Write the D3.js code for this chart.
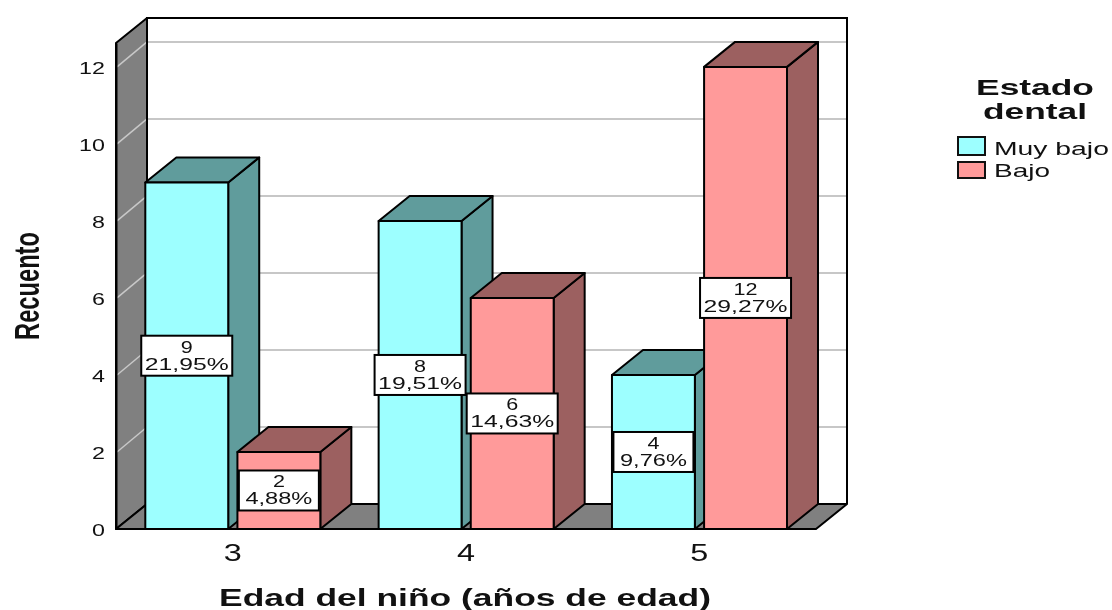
<!DOCTYPE html>
<html><head><meta charset="utf-8">
<script src="https://cdn.jsdelivr.net/npm/d3@7"></script>
<style>html,body{margin:0;padding:0;background:#fff}svg{display:block;filter:blur(0.5px)}text{font-family:"Liberation Sans",Arial,sans-serif;fill:#111}</style>
</head><body><svg id="c" width="1112" height="610"></svg>
<script>
const categories = ["3","4","5"];
const seriesNames = ["Muy bajo","Bajo"];
const muyBajo = [9,8,4];
const bajo = [2,6,12];
const muyBajoPct = ["21,95%","19,51%","9,76%"];
const bajoPct = ["4,88%","14,63%","29,27%"];
const yTicks = [0,2,4,6,8,10,12];
const xTitle = "Edad del niño (años de edad)";
const yTitle = "Recuento";
const legendTitle = ["Estado","dental"];

const svg = d3.select("#c");
const L=116,R=816,B=529,T=43,DX=31,DY=25;
const y=d3.scaleLinear().domain([0,12.62]).range([B,T]);
const x0=d3.scaleBand().domain(categories).range([L,R]);
const x1=d3.scaleBand().domain(seriesNames).range([29.3,x0.bandwidth()-29]).paddingInner(0.1);
const colors=d3.scaleOrdinal().domain(seriesNames).range(["#9dffff","#ff9a9a"]);
const sides=d3.scaleOrdinal().domain(seriesNames).range(["#609c9c","#9c6060"]);
const line=d3.line();
const poly=(p,fill,stroke,w)=>svg.append("path").attr("d",line(p)+"Z").attr("fill",fill).attr("stroke",stroke||"none").attr("stroke-width",w||0).attr("stroke-linejoin","round");

// walls
poly([[L,B],[L+DX,B-DY],[L+DX,T-DY],[L,T]],"#808080","#000",2);
poly([[L,B],[L+DX,B-DY],[R+DX,B-DY],[R,B]],"#808080","#000",2);
// grid
yTicks.filter(v=>v>0).forEach(v=>{
  svg.append("line").attr("x1",L+DX+1).attr("x2",R+DX-1).attr("y1",y(v)-DY).attr("y2",y(v)-DY).attr("stroke","#b4b4b4").attr("stroke-width",1.5);
  svg.append("line").attr("x1",L+1).attr("x2",L+DX).attr("y1",y(v)).attr("y2",y(v)-DY).attr("stroke","#c8c8c8").attr("stroke-width",1.5);
});
// back wall frame
svg.append("path").attr("d",line([[L+DX,B-DY],[L+DX,T-DY],[R+DX,T-DY],[R+DX,B-DY]])).attr("fill","none").attr("stroke","#000").attr("stroke-width",2);

const rows=[];
categories.forEach((c,i)=>{
  rows.push({c,s:seriesNames[0],v:muyBajo[i],p:muyBajoPct[i]});
  rows.push({c,s:seriesNames[1],v:bajo[i],p:bajoPct[i]});
});
rows.forEach(d=>{
  const a=x0(d.c)+x1(d.s), b=a+x1.bandwidth(), t=y(d.v);
  poly([[b,B],[b+DX,B-DY],[b+DX,t-DY],[b,t]],sides(d.s),"#000",2);
  poly([[a,t],[a+DX,t-DY],[b+DX,t-DY],[b,t]],sides(d.s),"#000",2);
  poly([[a,B],[a,t],[b,t],[b,B]],colors(d.s),"#000",2);
});
svg.append("line").attr("x1",L).attr("x2",R).attr("y1",B).attr("y2",B).attr("stroke","#000").attr("stroke-width",2);

function fit(sel,w){
  const len=sel.node().getComputedTextLength();
  sel.attr("transform",(sel.attr("data-t")||"")+` scale(${w/len},1)`);
}
// value labels
rows.forEach(d=>{
  const cx=x0(d.c)+x1(d.s)+x1.bandwidth()/2, cy=y(d.v/2);
  const w=d.p.length>5?91:80;
  svg.append("rect").attr("x",cx-w/2).attr("y",cy-20).attr("width",w).attr("height",40).attr("fill","#fff").attr("stroke","#000").attr("stroke-width",2);
  const a=svg.append("text").attr("text-anchor","middle").attr("font-size",16).attr("fill","#222").attr("data-t",`translate(${cx},${cy-3})`).text(d.v);
  fit(a,d.v>9?24:12);
  const b=svg.append("text").attr("text-anchor","middle").attr("font-size",16).attr("fill","#222").attr("data-t",`translate(${cx},${cy+14})`).text(d.p);
  fit(b,d.p.length>5?84:67);
});
// axes
const gy=svg.append("g").attr("transform",`translate(${L},0)`).call(d3.axisLeft(y).tickValues(yTicks).tickSize(0).tickPadding(11));
gy.select(".domain").attr("stroke","#000").attr("stroke-width",2);
gy.selectAll("text").attr("font-size",17).attr("fill","#222").attr("text-anchor","end")
  .attr("transform","translate(-11,1) scale(1.37,1)").attr("x",0);
const gx=svg.append("g").attr("transform",`translate(0,${B})`).call(d3.axisBottom(x0).tickSize(0).tickPadding(15));
gx.select(".domain").remove();
gx.selectAll("text").attr("font-size",24).attr("fill","#222").each(function(d){
  const px=x0(d)+x0.bandwidth()/2;
  d3.select(this).attr("x",0).attr("transform",`translate(${px},0) scale(1.35,1)`);
});
gx.selectAll(".tick").attr("transform","translate(0,0)");
// titles
const xt=svg.append("text").attr("text-anchor","middle").attr("font-size",24).attr("font-weight","bold").attr("data-t","translate(465,606)").text(xTitle);
fit(xt,492);
const yt=svg.append("text").attr("text-anchor","middle").attr("font-size",35).attr("font-weight","bold").attr("data-t","translate(39,286) rotate(-90)").text(yTitle);
fit(yt,108);
// legend
legendTitle.forEach((s,i)=>{
  const t=svg.append("text").attr("text-anchor","middle").attr("font-size",22).attr("font-weight","bold").attr("data-t",`translate(1035,${95+i*24})`).text(s);
  fit(t,i?104:118);
});
const legY=d3.scalePoint().domain(seriesNames).range([146,170]);
const legW=[115,56];
seriesNames.forEach((s,i)=>{
  const h=i?16:18;
  svg.append("rect").attr("x",958).attr("y",legY(s)-(i?8:9)).attr("width",27).attr("height",h).attr("fill",colors(s)).attr("stroke","#111").attr("stroke-width",2);
  const t=svg.append("text").attr("font-size",19).attr("fill","#222").attr("data-t",`translate(994,${legY(s)+(i?7:9)})`).text(s);
  fit(t,legW[i]);
});
</script></body></html>
